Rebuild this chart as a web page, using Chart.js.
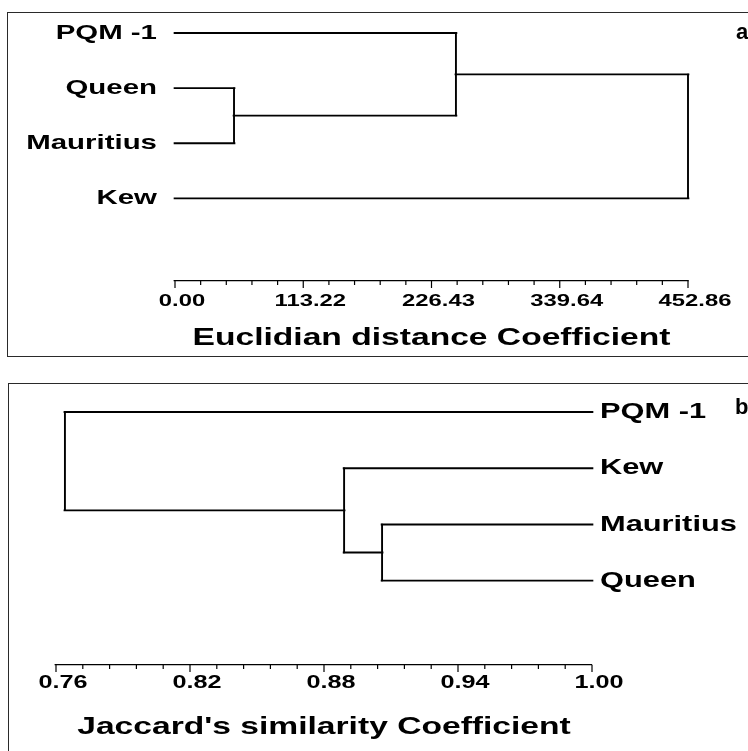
<!DOCTYPE html>
<html><head><meta charset="utf-8">
<script src="https://cdn.jsdelivr.net/npm/chart.js@4/dist/chart.umd.min.js"></script>
<style>
html,body{margin:0;padding:0;background:#fff;width:748px;height:751px;overflow:hidden;position:relative;}
.box{position:absolute;border:1.5px solid #2a2a2a;box-sizing:border-box;}
canvas{position:absolute;left:0;}
.tag{position:absolute;font:bold 22px "Liberation Sans",Arial,sans-serif;color:#000;line-height:22px;}
</style></head><body>
<div class="box" style="left:7px;top:12px;width:760px;height:345px"></div>
<div class="box" style="left:8px;top:383px;width:760px;height:400px"></div>
<canvas id="ca" width="748" height="370" style="top:0"></canvas>
<canvas id="cb" width="748" height="381" style="top:370px"></canvas>
<div class="tag" style="left:736px;top:21px">a</div>
<div class="tag" style="left:735px;top:396px">b</div>
<script>
// ---------- data ----------
// (a) Euclidean distance dendrogram
const euclidLeaves = ['PQM -1', 'Queen', 'Mauritius', 'Kew'];
const euclidLeafLevel = 0;
const euclidMergeA = [1, 0, 5];      // index >= leaves.length refers to an earlier cluster
const euclidMergeB = [2, 4, 3];
const euclidHeights = [52.1, 248.0, 452.86];
const euclidTicks = [0, 113.22, 226.43, 339.64, 452.86];
const euclidTickLabels = ['0.00', '113.22', '226.43', '339.64', '452.86'];

// (b) Jaccard similarity dendrogram
const jaccardLeaves = ['PQM -1', 'Kew', 'Mauritius', 'Queen'];
const jaccardLeafLevel = 1.00;
const jaccardMergeA = [2, 1, 0];
const jaccardMergeB = [3, 4, 5];
const jaccardHeights = [0.906, 0.889, 0.764];
const jaccardTicks = [0.76, 0.82, 0.88, 0.94, 1.00];
const jaccardTickLabels = ['0.76', '0.82', '0.88', '0.94', '1.00'];

// ---------- drawing ----------
const K = 1.4; // horizontal stretch of the original figure
const FONT = '"Liberation Sans", Arial, sans-serif';
const Y_MIN = -0.4, Y_MAX = 4.5;

function buildDatasets(leafCount, leafLevel, mA, mB, heights, lw) {
  const nodes = [];
  for (let i = 0; i < leafCount; i++) nodes.push({x: leafLevel, y: i});
  const ds = [];
  const seg = (pts, w) => ds.push({data: pts, showLine: true, borderColor: '#000', borderWidth: w,
    borderCapStyle: 'square', pointRadius: 0, pointHoverRadius: 0, tension: 0, clip: false});
  for (let m = 0; m < heights.length; m++) {
    const a = nodes[mA[m]], b = nodes[mB[m]], h = heights[m];
    seg([{x: a.x, y: a.y}, {x: h, y: a.y}], lw);
    seg([{x: h, y: b.y}, {x: b.x, y: b.y}], lw);
    seg([{x: h, y: a.y}, {x: h, y: b.y}], lw / K);
    nodes.push({x: h, y: (a.y + b.y) / 2});
  }
  return ds;
}

function makeDendro(id, c) {
  const canvas = document.getElementById(id);
  const H = canvas.height;
  const top = (c.leaf0 * (Y_MAX - Y_MIN) + Y_MIN * c.axisY) / (Y_MAX);
  const padTop = (c.leaf0 * (Y_MAX - Y_MIN) - (-Y_MIN) * c.axisY) / Y_MAX;
  const left = c.plotLeft / K, right = c.plotRight / K;
  const yLeft = c.yPos === 'left';
  const stretch = {
    id: 'stretch',
    beforeDraw(ch) { ch.ctx.save(); ch.ctx.scale(K, 1); },
    afterDraw(ch) {
      const ctx = ch.ctx, sc = ch.scales.x, y0 = sc.top;
      ctx.save();
      ctx.strokeStyle = '#000';
      ctx.lineWidth = 1.2 / K;
      ctx.beginPath();
      const t = c.ticks;
      for (let i = 0; i < t.length; i++) {
        const px = sc.getPixelForValue(t[i]);
        ctx.moveTo(px, y0); ctx.lineTo(px, y0 + 7);
        if (i < t.length - 1) {
          const step = (t[i + 1] - t[i]) / (c.minor + 1);
          for (let j = 1; j <= c.minor; j++) {
            const pm = sc.getPixelForValue(t[i] + step * j);
            ctx.moveTo(pm, y0); ctx.lineTo(pm, y0 + 4);
          }
        }
      }
      ctx.stroke();
      ctx.restore();
      ctx.restore();
    }
  };
  return new Chart(canvas, {
    type: 'scatter',
    data: {datasets: c.datasets},
    options: {
      responsive: false, animation: false, events: [], devicePixelRatio: 1,
      layout: {padding: {left: yLeft ? 0 : left, right: yLeft ? 748 - right : 0, top: padTop, bottom: 0}},
      plugins: {legend: {display: false}, tooltip: {enabled: false}},
      scales: {
        x: {
          type: 'linear', min: c.min, max: c.max,
          grid: {display: false, drawTicks: false},
          border: {display: true, color: '#000', width: 1.2},
          afterBuildTicks: s => { s.ticks = c.ticks.map(v => ({value: v})); },
          afterFit: s => { s.height = H - c.axisY; s.paddingLeft = 0; s.paddingRight = 0; },
          ticks: {autoSkip: false, maxRotation: 0, padding: c.tickPad, labelOffset: 5, color: '#000',
            font: {family: FONT, size: c.tickFont, weight: 'bold'},
            callback: (v, i) => c.tickLabels[i]},
          title: {display: true, text: c.title, color: '#000',
            font: {family: FONT, size: 24, weight: 'bold'}, padding: {top: 0, bottom: c.titlePad}}
        },
        y: {
          type: 'linear', position: c.yPos, reverse: true, min: Y_MIN, max: Y_MAX,
          grid: {display: false, drawTicks: false},
          border: {display: false},
          afterBuildTicks: s => { s.ticks = c.leaves.map((_, i) => ({value: i})); },
          afterFit: s => { s.width = yLeft ? left : 748 - right; s.paddingTop = 0; s.paddingBottom = 0; },
          ticks: {autoSkip: false, padding: c.labelPad, color: '#000',
            font: {family: FONT, size: c.leafFont, weight: 'bold'},
            callback: v => c.leaves[Math.round(v)] ?? ''}
        }
      }
    },
    plugins: [stretch]
  });
}

makeDendro('ca', {
  leaves: euclidLeaves,
  datasets: buildDatasets(euclidLeaves.length, euclidLeafLevel, euclidMergeA, euclidMergeB, euclidHeights, 1.9),
  min: 0, max: 452.86, ticks: euclidTicks, tickLabels: euclidTickLabels, minor: 4,
  title: 'Euclidian distance Coefficient', yPos: 'left',
  plotLeft: 175, plotRight: 688, axisY: 281, leaf0: 33,
  leafFont: 21, tickFont: 17, tickPad: 10, labelPad: 12.9, titlePad: 17
});

makeDendro('cb', {
  leaves: jaccardLeaves,
  datasets: buildDatasets(jaccardLeaves.length, jaccardLeafLevel, jaccardMergeA, jaccardMergeB, jaccardHeights, 1.9),
  min: 0.76, max: 1.00, ticks: jaccardTicks, tickLabels: jaccardTickLabels, minor: 4,
  title: "Jaccard's similarity Coefficient", yPos: 'right',
  plotLeft: 56, plotRight: 592, axisY: 295, leaf0: 42,
  leafFont: 22, tickFont: 18, tickPad: 7, labelPad: 5.7, titlePad: 9
});
</script>
</body></html>
